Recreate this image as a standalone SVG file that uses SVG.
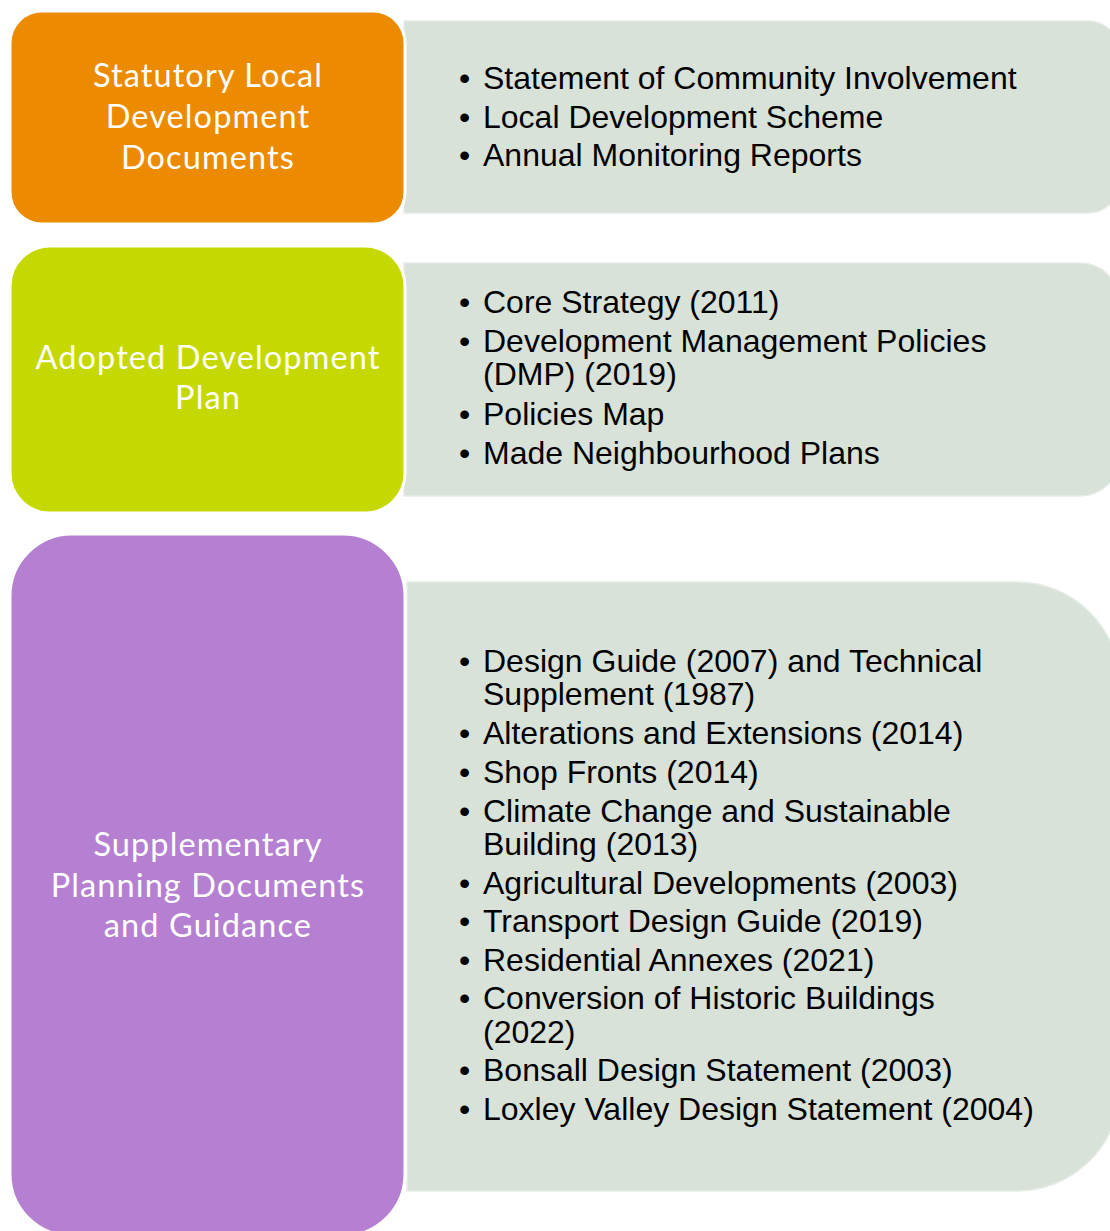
<svg xmlns="http://www.w3.org/2000/svg" width="1110" height="1231" viewBox="0 0 1110 1231">
<style>
.lbl{font-family:Lato,"Open Sans","Liberation Sans",sans-serif;font-size:32.5px;letter-spacing:1.1px;fill:#ffffff;text-anchor:middle}
.item{font-family:"Liberation Sans",Arial,sans-serif;font-size:32px;fill:#000000}
.panel{fill:#d8e2d9;stroke:#e6ece6;stroke-width:1.5}
.head{stroke:#ffffff;stroke-width:3}
</style>
<rect width="1110" height="1231" fill="#ffffff"/>
<g id="panel-statutory">
<path class="panel" d="M404,21 H1088 A32,32 0 0 1 1120,53 V181 A32,32 0 0 1 1088,213 H404 Z"/>
<text class="item"><tspan x="459" y="89">•</tspan><tspan x="483" y="89">Statement of Community Involvement</tspan><tspan x="459" y="128">•</tspan><tspan x="483" y="128">Local Development Scheme</tspan><tspan x="459" y="166">•</tspan><tspan x="483" y="166">Annual Monitoring Reports</tspan></text>
</g>
<g id="node-statutory">
<rect class="head" x="10" y="11" width="395" height="213" rx="32" fill="#ec8a00"/>
<text class="lbl"><tspan x="208" y="87">Statutory Local</tspan><tspan x="208" y="128">Development</tspan><tspan x="208" y="169">Documents</tspan></text>
</g>
<g id="panel-adopted">
<path class="panel" d="M404,263 H1080 A40,40 0 0 1 1120,303 V456 A40,40 0 0 1 1080,496 H404 Z"/>
<text class="item"><tspan x="459" y="313">•</tspan><tspan x="483" y="313">Core Strategy (2011)</tspan><tspan x="459" y="352">•</tspan><tspan x="483" y="352">Development Management Policies</tspan><tspan x="483" y="385">(DMP) (2019)</tspan><tspan x="459" y="425">•</tspan><tspan x="483" y="425">Policies Map</tspan><tspan x="459" y="464">•</tspan><tspan x="483" y="464">Made Neighbourhood Plans</tspan></text>
</g>
<g id="node-adopted">
<rect class="head" x="10" y="246" width="395" height="267" rx="40" fill="#c5d900"/>
<text class="lbl"><tspan x="208" y="369">Adopted Development</tspan><tspan x="208" y="409">Plan</tspan></text>
</g>
<g id="panel-spd">
<path class="panel" d="M407,582 H1017 A103,103 0 0 1 1120,685 V1088 A103,103 0 0 1 1017,1191 H407 Z"/>
<text class="item"><tspan x="459" y="672">•</tspan><tspan x="483" y="672">Design Guide (2007) and Technical</tspan><tspan x="483" y="705">Supplement (1987)</tspan><tspan x="459" y="744">•</tspan><tspan x="483" y="744">Alterations and Extensions (2014)</tspan><tspan x="459" y="783">•</tspan><tspan x="483" y="783">Shop Fronts (2014)</tspan><tspan x="459" y="822">•</tspan><tspan x="483" y="822">Climate Change and Sustainable</tspan><tspan x="483" y="855">Building (2013)</tspan><tspan x="459" y="894">•</tspan><tspan x="483" y="894">Agricultural Developments (2003)</tspan><tspan x="459" y="932">•</tspan><tspan x="483" y="932">Transport Design Guide (2019)</tspan><tspan x="459" y="971">•</tspan><tspan x="483" y="971">Residential Annexes (2021)</tspan><tspan x="459" y="1009">•</tspan><tspan x="483" y="1009">Conversion of Historic Buildings</tspan><tspan x="483" y="1043">(2022)</tspan><tspan x="459" y="1081">•</tspan><tspan x="483" y="1081">Bonsall Design Statement (2003)</tspan><tspan x="459" y="1120">•</tspan><tspan x="483" y="1120">Loxley Valley Design Statement (2004)</tspan></text>
</g>
<g id="node-spd">
<rect class="head" x="10" y="534" width="395" height="702" rx="62" fill="#b580d1"/>
<text class="lbl"><tspan x="208" y="856">Supplementary</tspan><tspan x="208" y="897">Planning Documents</tspan><tspan x="208" y="937">and Guidance</tspan></text>
</g>
<g id="connectors"></g>
</svg>
